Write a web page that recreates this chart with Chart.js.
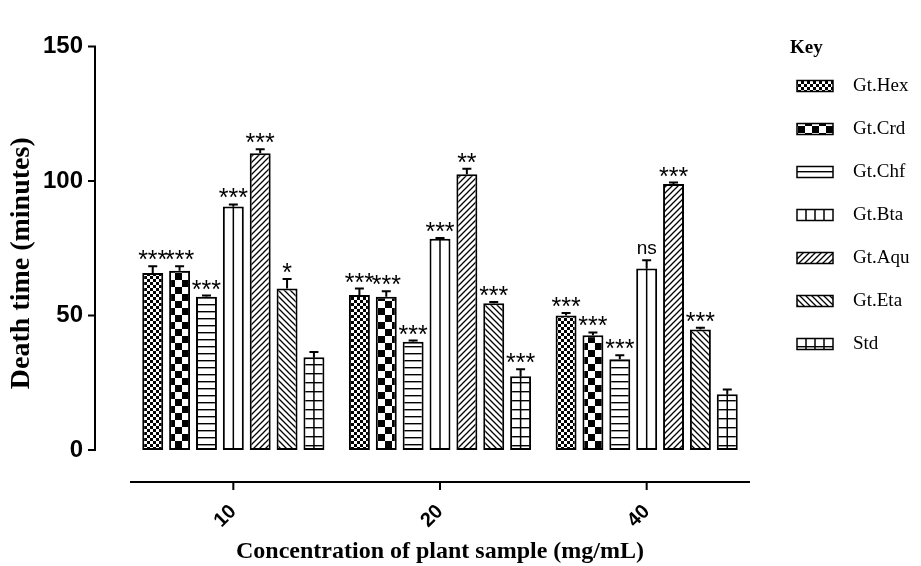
<!DOCTYPE html>
<html><head><meta charset="utf-8">
<script src="https://cdn.jsdelivr.net/npm/chart.js@4/dist/chart.umd.min.js"></script>
<style>html,body{margin:0;padding:0;background:#fff}#wrap{width:921px;height:566px;position:relative}</style>
</head><body><div id="wrap"><canvas id="c" width="921" height="566"></canvas></div>
<script>
// ---- data ----
const categories = ['10', '20', '40'];
const seriesNames = ['Gt.Hex', 'Gt.Crd', 'Gt.Chf', 'Gt.Bta', 'Gt.Aqu', 'Gt.Eta', 'Std'];
const hexValues = [65.8, 57.6, 50.0];
const crdValues = [66.6, 57.0, 42.7];
const chfValues = [57.0, 40.2, 33.7];
const btaValues = [90.5, 78.5, 67.5];
const aquValues = [110.3, 102.5, 98.9];
const etaValues = [60.0, 54.6, 44.8];
const stdValues = [34.5, 27.4, 20.7];
const hexErr = [2.5, 2.4, 0.9];
const crdErr = [1.7, 2.0, 1.0];
const chfErr = [0.4, 0.5, 1.5];
const btaErr = [0.8, 0.3, 3.0];
const aquErr = [1.5, 2.1, 0.5];
const etaErr = [3.6, 0.4, 0.6];
const stdErr = [1.9, 2.6, 1.8];
const hexSig = ['***', '***', '***'];
const crdSig = ['***', '***', '***'];
const chfSig = ['***', '***', '***'];
const btaSig = ['***', '***', 'ns'];
const aquSig = ['***', '**', '***'];
const etaSig = ['*', '***', '***'];
const stdSig = ['', '***', ''];
const yTicks = [0, 50, 100, 150];
const yTitle = 'Death time (minutes)';
const xTitle = 'Concentration of plant sample (mg/mL)';
const legendTitle = 'Key';

// ---- patterns ----
function tile(w, h, draw) {
  const c = document.createElement('canvas'); c.width = w; c.height = h;
  const g = c.getContext('2d'); g.fillStyle = '#fff'; g.fillRect(0, 0, w, h);
  g.fillStyle = '#000'; g.strokeStyle = '#000'; draw(g, w, h);
  return document.getElementById('c').getContext('2d').createPattern(c, 'repeat');
}
const patHex = tile(6, 6, (g) => { g.fillRect(0, 0, 3, 3); g.fillRect(3, 3, 3, 3); });
const patCrd = tile(14, 14, (g) => { g.fillRect(0, 0, 7, 7); g.fillRect(7, 7, 7, 7); });
const patChf = tile(7, 7, (g) => { g.fillRect(0, 3, 7, 1.4); });
const patBta = '#ffffff';
const patAqu = tile(6, 6, (g) => { g.lineWidth = 1.3; g.beginPath(); g.moveTo(-1, 7); g.lineTo(7, -1); g.moveTo(-1, 1); g.lineTo(1, -1); g.moveTo(5, 7); g.lineTo(7, 5); g.stroke(); });
const patEta = tile(6, 6, (g) => { g.lineWidth = 1.3; g.beginPath(); g.moveTo(-1, -1); g.lineTo(7, 7); g.moveTo(5, -1); g.lineTo(7, 1); g.moveTo(-1, 5); g.lineTo(1, 7); g.stroke(); });
const patStd = tile(9, 9, (g) => { g.fillRect(0, 4, 9, 1.4); });

const fills = [patHex, patCrd, patChf, patBta, patAqu, patEta, patStd];
const values = [hexValues, crdValues, chfValues, btaValues, aquValues, etaValues, stdValues];
const errs = [hexErr, crdErr, chfErr, btaErr, aquErr, etaErr, stdErr];
const sigs = [hexSig, crdSig, chfSig, btaSig, aquSig, etaSig, stdSig];
const centerLine = [false, false, false, true, false, false, true];

const datasets = seriesNames.map((n, i) => ({
  label: n, data: values[i], backgroundColor: fills[i], borderColor: '#000', borderWidth: 2,
  borderSkipped: false, categoryPercentage: 0.91, barPercentage: 0.78,
  errorBars: errs[i], sig: sigs[i], centerLine: centerLine[i]
}));

const AXIS_OFFSET_X = 35, AXIS_OFFSET_Y = 32;

const decor = {
  id: 'decor',
  afterDatasetsDraw(chart) {
    const ctx = chart.ctx, ys = chart.scales.y;
    const y0 = ys.getPixelForValue(0);
    ctx.save();
    chart.data.datasets.forEach((ds, di) => {
      const meta = chart.getDatasetMeta(di);
      meta.data.forEach((bar, j) => {
        if (ds.centerLine) {
          ctx.strokeStyle = '#000'; ctx.lineWidth = 1.5;
          ctx.beginPath(); ctx.moveTo(bar.x, bar.y); ctx.lineTo(bar.x, y0); ctx.stroke();
        }
        const top = ys.getPixelForValue(ds.data[j] + ds.errorBars[j]);
        ctx.strokeStyle = '#000'; ctx.lineWidth = 2;
        ctx.beginPath(); ctx.moveTo(bar.x, bar.y); ctx.lineTo(bar.x, top);
        ctx.moveTo(bar.x - 4.5, top); ctx.lineTo(bar.x + 4.5, top); ctx.stroke();
        const s = ds.sig[j];
        if (s) {
          ctx.fillStyle = '#000'; ctx.textAlign = 'center'; ctx.textBaseline = 'alphabetic';
          if (s === 'ns') { ctx.font = '19px "Liberation Sans"'; ctx.fillText(s, bar.x, top - 6); }
          else { ctx.font = '25px "Liberation Sans"'; ctx.fillText(s, bar.x, top + 2); }
        }
      });
    });
    ctx.restore();
  },
  afterDraw(chart) {
    const ctx = chart.ctx, ys = chart.scales.y, xs = chart.scales.x, ca = chart.chartArea;
    ctx.save();
    ctx.strokeStyle = '#000'; ctx.lineWidth = 2;
    // y axis
    const ax = ca.left - AXIS_OFFSET_X;
    ctx.beginPath();
    ctx.moveTo(ax, ys.getPixelForValue(yTicks[0])); ctx.lineTo(ax, ys.getPixelForValue(yTicks[yTicks.length - 1]));
    yTicks.forEach(v => { const p = ys.getPixelForValue(v); ctx.moveTo(ax + 1, p); ctx.lineTo(ax - 7, p); });
    ctx.stroke();
    // x axis
    const ay = ys.getPixelForValue(0) + AXIS_OFFSET_Y;
    ctx.beginPath();
    ctx.moveTo(ca.left, ay); ctx.lineTo(ca.right, ay);
    categories.forEach((c, i) => { const p = xs.getPixelForValue(i); ctx.moveTo(p, ay); ctx.lineTo(p, ay + 8); });
    ctx.stroke();
    // y title
    ctx.save();
    ctx.translate(22, (ca.top + ca.bottom) / 2 + 15);
    ctx.rotate(-Math.PI / 2);
    ctx.fillStyle = '#000'; ctx.textAlign = 'center'; ctx.textBaseline = 'middle';
    ctx.font = 'bold 28px "Liberation Serif"';
    ctx.fillText(yTitle, 0, 0);
    ctx.restore();
    // legend
    const lx = ca.right + 47, keyY = 48, firstY = 86, step = 43;
    ctx.fillStyle = '#000'; ctx.textBaseline = 'middle'; ctx.textAlign = 'left';
    ctx.font = 'bold 19px "Liberation Serif"';
    ctx.fillText(legendTitle, lx - 7, keyY);
    ctx.font = '19px "Liberation Serif"';
    chart.data.datasets.forEach((ds, i) => {
      const cy = firstY + step * i;
      const bx = lx, by = cy - 5.5, bw = 36, bh = 11;
      ctx.fillStyle = ds.backgroundColor; ctx.fillRect(bx, by, bw, bh);
      ctx.strokeStyle = '#000'; ctx.lineWidth = 1.5;
      if (ds.centerLine) {
        ctx.beginPath();
        for (let k = 1; k < 4; k++) { ctx.moveTo(bx + bw * k / 4, by); ctx.lineTo(bx + bw * k / 4, by + bh); }
        ctx.stroke();
      }
      ctx.strokeRect(bx, by, bw, bh);
      ctx.fillStyle = '#000';
      ctx.fillText(ds.label, bx + 56, cy);
    });
    ctx.restore();
  }
};

new Chart(document.getElementById('c'), {
  type: 'bar',
  data: { labels: categories, datasets },
  options: {
    responsive: false, animation: false,
    layout: { padding: { left: 0, right: 171, top: 46.5, bottom: 0 } },
    plugins: { legend: { display: false }, tooltip: { enabled: false } },
    scales: {
      x: {
        grid: { display: false, drawTicks: false }, border: { display: false },
        ticks: { color: '#000', font: { family: 'Liberation Sans', weight: 'bold', size: 20 }, maxRotation: 45, minRotation: 45, padding: 50 },
        title: { display: true, text: xTitle, color: '#000', font: { family: 'Liberation Serif', weight: 'bold', size: 24 }, padding: { top: 0, bottom: 0 } },
        afterFit(s) { s.height = 116; s.paddingLeft = 0; s.paddingRight = 0; }
      },
      y: {
        min: 0, max: 150,
        grid: { display: false, drawTicks: false }, border: { display: false },
        ticks: { stepSize: 50, color: '#000', font: { family: 'Liberation Sans', weight: 'bold', size: 24 }, padding: 47 },
        title: { display: false },
        afterFit(s) { s.width = 130; s.paddingTop = 0; s.paddingBottom = 0; }
      }
    }
  },
  plugins: [decor]
});
</script></body></html>
